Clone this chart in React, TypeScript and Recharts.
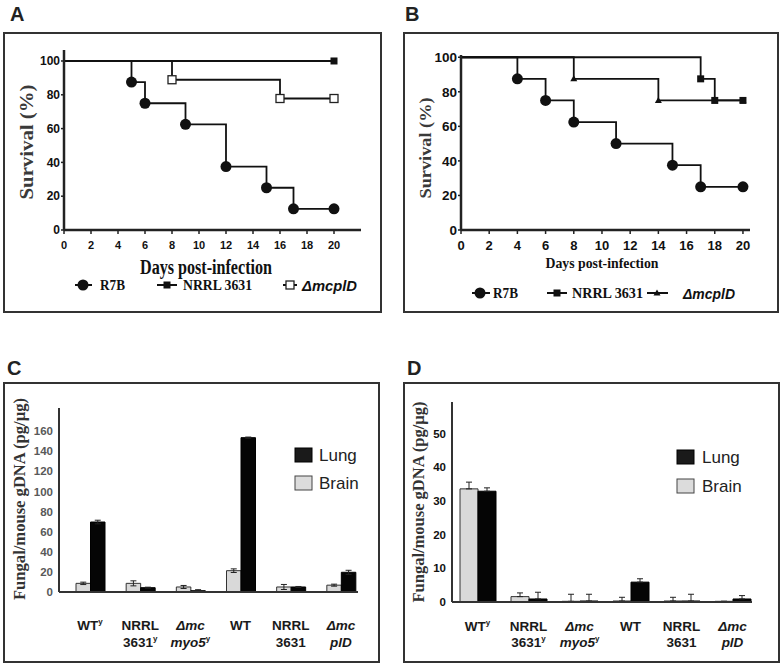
import { LineChart, Line, XAxis, YAxis, Legend, BarChart, Bar, ErrorBar } from 'recharts';

const SANS = '"Liberation Sans", Arial, sans-serif';
const SERIF = '"Liberation Serif", "Times New Roman", serif';

// ---- survival, panel A ----
const daysA_R7B = [0, 5, 6, 9, 12, 15, 17, 20];
const survA_R7B = [100, 87.5, 75, 62.5, 37.5, 25, 12.5, 12.5];
const daysA_NRRL = [0, 20];
const survA_NRRL = [100, 100];
const daysA_mcplD = [0, 8, 16, 20];
const survA_mcplD = [100, 88.9, 77.8, 77.8];

// ---- survival, panel B ----
const daysB_R7B = [0, 4, 6, 8, 11, 15, 17, 20];
const survB_R7B = [100, 87.5, 75, 62.5, 50, 37.5, 25, 25];
const daysB_NRRL = [0, 17, 18, 20];
const survB_NRRL = [100, 87.5, 75, 75];
const daysB_mcplD = [0, 8, 14, 20];
const survB_mcplD = [100, 87.5, 75, 75];

const dayTicks = [0, 2, 4, 6, 8, 10, 12, 14, 16, 18, 20];
const survTicks = [0, 20, 40, 60, 80, 100];

// ---- fungal burden, panels C and D ----
const strains = ['WTy', 'NRRL 3631y', 'Δmc myo5y', 'WT', 'NRRL 3631', 'Δmc plD'];
const strainLine1 = ['WT', 'NRRL', 'Δmc', 'WT', 'NRRL', 'Δmc'];
const strainLine2 = ['', '3631', 'myo5', '', '3631', 'plD'];
const strainSup = ['y', 'y', 'y', '', '', ''];
const strainItalic = [false, false, true, false, false, true];

const brainC = [8.6, 8.6, 5, 21.2, 5, 6.8];
const brainErrC = [1.2, 2.5, 1.5, 1.8, 2.5, 1];
const lungC = [69.6, 4.3, 1.3, 153.5, 5, 19.6];
const lungErrC = [1.8, 0.5, 1, 0.6, 0.5, 2];
const ticksC = [0, 20, 40, 60, 80, 100, 120, 140, 160];

const brainD = [33.6, 1.6, 0.2, 0.3, 0.3, 0.2];
const brainErrD = [2, 1.1, 2.1, 1.1, 1.1, 0];
const lungD = [32.9, 0.9, 0.3, 5.9, 0.3, 0.9];
const lungErrD = [1, 2, 2, 1, 2, 1];
const ticksD = [0, 10, 20, 30, 40, 50];

const toPts = (days: number[], surv: number[]) => days.map((day, i) => ({ day, surv: surv[i] }));

function drawMarker(shape: string, cx: number, cy: number, key: string) {
  if (shape === 'circle') return <circle key={key} cx={cx} cy={cy} r={5.5} fill="#111" />;
  if (shape === 'square') return <rect key={key} x={cx - 3.5} y={cy - 3.5} width={7} height={7} fill="#111" />;
  if (shape === 'open')
    return <rect key={key} x={cx - 4} y={cy - 4} width={8} height={8} fill="#fff" stroke="#222" strokeWidth={1.3} />;
  return <path key={key} d={`M${cx},${cy - 3.5}L${cx + 3.5},${cy + 2.5}L${cx - 3.5},${cy + 2.5}Z`} fill="#111" />;
}

interface Series { name: string; days: number[]; surv: number[]; shape: string }
interface LegItem { label: string; shape: string; from: number; to: number; mx: number; tx: number; len: number; italic?: boolean }
interface Box { x: number; y: number; w: number; h: number }

function SurvivalPanel(props: {
  box: Box; margin: any; xMax: number; yMax: number; series: Series[];
  xFont: number; yFont: number;
  legY: number; legend: LegItem[];
  xTitle: { x: number; y: number; size: number; len: number };
  yTitle: { x: number; y: number; size: number; len: number };
}) {
  const { box, margin, xMax, yMax, series, xFont, yFont, legY, legend, xTitle, yTitle } = props;
  return (
    <div style={{ position: 'absolute', left: box.x, top: box.y, width: box.w, height: box.h }}>
      <LineChart width={box.w} height={box.h} margin={margin}>
        <XAxis
          type="number" dataKey="day" domain={[0, xMax]} ticks={dayTicks} interval={0} height={30}
          tickSize={4} tickMargin={7}
          axisLine={{ stroke: '#222', strokeWidth: 2.5 }} tickLine={{ stroke: '#222', strokeWidth: 1.5 }}
          tick={{ fill: '#111', fontSize: xFont, fontWeight: 700, fontFamily: SANS }}
          label={() => (
            <text x={xTitle.x} y={xTitle.y} textAnchor="middle" dominantBaseline="central"
              fontFamily={SERIF} fontWeight={700} fontSize={xTitle.size} fill="#111"
              textLength={xTitle.len} lengthAdjust="spacingAndGlyphs">
              Days post-infection
            </text>
          )}
        />
        <YAxis
          type="number" domain={[0, yMax]} ticks={survTicks} interval={0} width={40}
          tickSize={3} tickMargin={1}
          axisLine={{ stroke: '#222', strokeWidth: 2.5 }} tickLine={{ stroke: '#222', strokeWidth: 1.5 }}
          tick={{ fill: '#111', fontSize: yFont, fontWeight: 700, fontFamily: SANS }}
          label={() => (
            <text x={yTitle.x} y={yTitle.y} textAnchor="middle" dominantBaseline="central"
              transform={`rotate(-90, ${yTitle.x}, ${yTitle.y})`}
              fontFamily={SERIF} fontWeight={700} fontSize={yTitle.size} fill="#3a3a3a"
              textLength={yTitle.len} lengthAdjust="spacingAndGlyphs">
              Survival (%)
            </text>
          )}
        />
        {series.map((s) => (
          <Line
            key={s.name} name={s.name} data={toPts(s.days, s.surv)} dataKey="surv" type="stepAfter"
            stroke="#111" strokeWidth={1.8} activeDot={false} isAnimationActive={false}
            dot={(p: any) =>
              p.index === 0 ? <g key={`${s.name}-${p.index}`} /> : drawMarker(s.shape, p.cx, p.cy, `${s.name}-${p.index}`)
            }
          />
        ))}
        <Legend
          layout="horizontal" verticalAlign="middle" align="center"
          wrapperStyle={{ left: 0, top: 0, width: box.w, height: box.h, pointerEvents: 'none' }}
          content={() => (
            <svg width={box.w} height={box.h} style={{ position: 'absolute', left: 0, top: 0 }}>
              {legend.map((it) => (
                <g key={it.label}>
                  <line x1={it.from} x2={it.to} y1={legY} y2={legY} stroke="#111" strokeWidth={2} />
                  {drawMarker(it.shape, it.mx, legY, 'm')}
                  <text x={it.tx} y={legY} dominantBaseline="central"
                    fontFamily={it.italic ? SANS : SERIF} fontStyle={it.italic ? 'italic' : 'normal'}
                    fontWeight={700} fontSize={15} fill="#111"
                    textLength={it.len} lengthAdjust="spacingAndGlyphs">
                    {it.label}
                  </text>
                </g>
              ))}
            </svg>
          )}
        />
      </LineChart>
      <div style={{ position: 'absolute', inset: 0, border: '2px solid #333', boxSizing: 'border-box', pointerEvents: 'none' }} />
    </div>
  );
}

const strainTick = (dy1: number, dy2: number) => (p: any) => {
  const i = strains.indexOf(p.payload.value);
  const sup = strainSup[i] ? (
    <tspan fontSize={8} dy={-6} fontStyle="normal">{strainSup[i]}</tspan>
  ) : null;
  const common = {
    textAnchor: 'middle' as const, fontFamily: SANS, fontWeight: 700, fontSize: 13.5, fill: '#1a1a1a',
    fontStyle: strainItalic[i] ? 'italic' : 'normal',
  };
  return (
    <g key={`tick-${i}`}>
      <text x={p.x} y={p.y + dy1} {...common}>
        {strainLine1[i]}
        {strainLine2[i] === '' ? sup : null}
      </text>
      {strainLine2[i] !== '' && (
        <text x={p.x} y={p.y + dy2} {...common}>
          {strainLine2[i]}
          {sup}
        </text>
      )}
    </g>
  );
};

function BurdenPanel(props: {
  box: Box; margin: any; yMax: number; ticks: number[]; tickFill: string;
  brain: number[]; brainErr: any[]; lung: number[]; lungErr: any[];
  barSize: number; pad: { left: number; right: number }; xHeight: number; dy1: number; dy2: number;
  yTitle: { x: number; y: number; len: number };
  leg: { sx: number; tx: number; y1: number; y2: number };
}) {
  const { box, margin, yMax, ticks, tickFill, brain, brainErr, lung, lungErr, barSize, pad, xHeight, dy1, dy2, yTitle, leg } = props;
  const rows = strains.map((s, i) => ({ strain: s, brain: brain[i], brainErr: brainErr[i], lung: lung[i], lungErr: lungErr[i] }));
  return (
    <div style={{ position: 'absolute', left: box.x, top: box.y, width: box.w, height: box.h }}>
      <BarChart width={box.w} height={box.h} data={rows} margin={margin} barGap={0} barSize={barSize}>
        <XAxis
          dataKey="strain" interval={0} height={xHeight} padding={pad} tickSize={0} tickMargin={0}
          axisLine={{ stroke: '#333', strokeWidth: 2 }} tickLine={false}
          tick={strainTick(dy1, dy2)}
        />
        <YAxis
          type="number" domain={[0, yMax]} ticks={ticks} interval={0} width={40} tickSize={4} tickMargin={2}
          axisLine={{ stroke: '#333', strokeWidth: 2 }} tickLine={false}
          tick={{ fill: tickFill, fontSize: 11.5, fontWeight: 700, fontFamily: SANS }}
          label={() => (
            <text x={yTitle.x} y={yTitle.y} textAnchor="middle" dominantBaseline="central"
              transform={`rotate(-90, ${yTitle.x}, ${yTitle.y})`}
              fontFamily={SERIF} fontWeight={700} fontSize={16} fill="#333"
              textLength={yTitle.len} lengthAdjust="spacingAndGlyphs">
              Fungal/mouse gDNA (pg/µg)
            </text>
          )}
        />
        <Bar dataKey="brain" name="Brain" fill="#d9d9d9" stroke="#333" strokeWidth={1} isAnimationActive={false}>
          <ErrorBar dataKey="brainErr" width={3} stroke="#222" strokeWidth={1} direction="y" />
        </Bar>
        <Bar dataKey="lung" name="Lung" fill="#050505" stroke="#000" strokeWidth={1} isAnimationActive={false}>
          <ErrorBar dataKey="lungErr" width={3} stroke="#222" strokeWidth={1} direction="y" />
        </Bar>
        <Legend
          layout="horizontal" verticalAlign="middle" align="center"
          wrapperStyle={{ left: 0, top: 0, width: box.w, height: box.h, pointerEvents: 'none' }}
          content={() => (
            <svg width={box.w} height={box.h} style={{ position: 'absolute', left: 0, top: 0 }}>
              <rect x={leg.sx} y={leg.y1 - 7} width={17} height={14} fill="#1a1a1a" stroke="#000" />
              <text x={leg.tx} y={leg.y1} dominantBaseline="central" fontFamily={SANS} fontSize={17} fill="#222">Lung</text>
              <rect x={leg.sx} y={leg.y2 - 7} width={17} height={14} fill="#dcdcdc" stroke="#444" />
              <text x={leg.tx} y={leg.y2} dominantBaseline="central" fontFamily={SANS} fontSize={17} fill="#222">Brain</text>
            </svg>
          )}
        />
      </BarChart>
      <div style={{ position: 'absolute', inset: 0, border: '2px solid #333', boxSizing: 'border-box', pointerEvents: 'none' }} />
    </div>
  );
}

const seriesA: Series[] = [
  { name: 'NRRL 3631', days: daysA_NRRL, surv: survA_NRRL, shape: 'square' },
  { name: 'R7B', days: daysA_R7B, surv: survA_R7B, shape: 'circle' },
  { name: 'ΔmcplD', days: daysA_mcplD, surv: survA_mcplD, shape: 'open' },
];
const seriesB: Series[] = [
  { name: 'R7B', days: daysB_R7B, surv: survB_R7B, shape: 'circle' },
  { name: 'ΔmcplD', days: daysB_mcplD, surv: survB_mcplD, shape: 'triangle' },
  { name: 'NRRL 3631', days: daysB_NRRL, surv: survB_NRRL, shape: 'square' },
];

export default function App() {
  return (
    <div style={{ position: 'relative', width: 783, height: 667, background: '#fff', overflow: 'hidden' }}>
      <style>{'body{margin:0}'}</style>
      <svg width={783} height={667} style={{ position: 'absolute', left: 0, top: 0 }}>
        <g fontFamily={SANS} fontWeight={700} fontSize={20} fill="#222">
          <text x={10} y={21}>A</text>
          <text x={405} y={21}>B</text>
          <text x={7} y={375}>C</text>
          <text x={407} y={375}>D</text>
        </g>
      </svg>
      <SurvivalPanel
        box={{ x: 3, y: 32, w: 379, h: 281 }}
        margin={{ top: 18, right: 21, bottom: 53, left: 21 }}
        xMax={22} yMax={106.5} series={seriesA} xFont={11} yFont={12} legY={253}
        legend={[
          { label: 'R7B', shape: 'circle', from: 72, to: 89, mx: 80, tx: 97, len: 25 },
          { label: 'NRRL 3631', shape: 'square', from: 154, to: 174, mx: 164, tx: 180, len: 69 },
          { label: 'ΔmcplD', shape: 'open', from: 280, to: 294, mx: 287, tx: 299, len: 55, italic: true },
        ]}
        xTitle={{ x: 203, y: 235, size: 20, len: 132 }}
        yTitle={{ x: 23, y: 110, size: 19, len: 115 }}
      />
      <SurvivalPanel
        box={{ x: 403, y: 32, w: 376, h: 281 }}
        margin={{ top: 23, right: 29, bottom: 53, left: 18 }}
        xMax={20.5} yMax={101.3} series={seriesB} xFont={13} yFont={13.5} legY={261}
        legend={[
          { label: 'R7B', shape: 'circle', from: 69, to: 87, mx: 77, tx: 90, len: 25 },
          { label: 'NRRL 3631', shape: 'square', from: 144, to: 164, mx: 154, tx: 169, len: 71 },
          { label: 'ΔmcplD', shape: 'triangle', from: 244, to: 265, mx: 254, tx: 280, len: 52, italic: true },
        ]}
        xTitle={{ x: 199, y: 231, size: 15, len: 113 }}
        yTitle={{ x: 22, y: 116, size: 17, len: 101 }}
      />
      <BurdenPanel
        box={{ x: 3, y: 382, w: 377, h: 281 }}
        margin={{ top: 26, right: 22, bottom: 11, left: 16 }}
        yMax={183} ticks={ticksC} tickFill="#595959"
        brain={brainC} brainErr={brainErrC} lung={lungC} lungErr={lungErrC}
        barSize={14.5} pad={{ left: 6, right: -8 }} xHeight={60} dy1={38} dy2={55}
        yTitle={{ x: 16, y: 117, len: 202 }}
        leg={{ sx: 292, tx: 316, y1: 73, y2: 101 }}
      />
      <BurdenPanel
        box={{ x: 403, y: 382, w: 377, h: 281 }}
        margin={{ top: 20, right: 28, bottom: 6, left: 9 }}
        yMax={59.4} ticks={ticksD} tickFill="#111"
        brain={brainD} brainErr={brainErrD.map((e) => [0, e])} lung={lungD} lungErr={lungErrD.map((e) => [0, e])}
        barSize={18} pad={{ left: 0, right: -6 }} xHeight={55} dy1={29} dy2={45}
        yTitle={{ x: 15, y: 120, len: 201 }}
        leg={{ sx: 274, tx: 299, y1: 75, y2: 104 }}
      />
    </div>
  );
}
